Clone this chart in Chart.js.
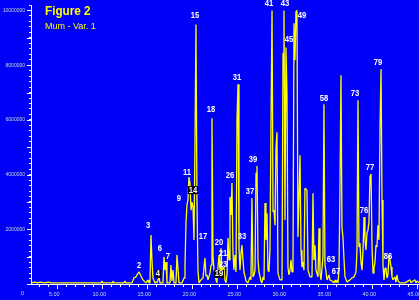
<!DOCTYPE html>
<html>
  <head>
    <title>Figure 2 - Mum - Var. 1</title>
    <script src="https://cdn.jsdelivr.net/npm/chart.js@4.4.0/dist/chart.umd.min.js"></script>
    <style>
      body { margin: 0; background: #0000f6; }
      canvas { display: block; }
    </style>
  </head>
  <body>
    <canvas id="tic" width="419" height="300"></canvas>
    <script>
// retention time (min)
var rtMinutes = [
  2.08, 2.52, 2.86, 3.08, 3.63, 3.97, 4.41,
  9.86, 9.97, 10.08, 11.08, 11.19, 11.30, 12.41, 12.52, 12.63,
  13.30, 13.52, 13.74, 13.86, 14.08, 14.30, 14.52, 14.86, 15.08, 15.19,
  15.30, 15.41, 15.52, 15.63, 15.86, 15.97, 16.08, 16.19, 16.30, 16.41,
  16.74, 16.86, 16.97, 17.08, 17.19, 17.52, 17.63, 17.74, 17.86, 17.97,
  18.19, 18.30, 18.41, 18.52, 18.86, 19.08, 19.19,
  19.30, 19.41, 19.52, 19.63, 19.74, 19.86, 19.97, 20.08, 20.19, 20.30, 20.41, 20.52, 20.63, 20.74,
  20.97, 21.19, 21.41, 21.52, 21.63, 21.74, 21.97, 22.08, 22.19, 22.30, 22.41, 22.52, 22.63, 22.74,
  22.86, 22.97, 23.08, 23.19, 23.30, 23.41, 23.52, 23.63, 23.74,
  23.86, 23.97, 24.08, 24.19, 24.30, 24.41, 24.52, 24.63, 24.74, 24.86,
  24.97, 25.08, 25.19, 25.30, 25.41, 25.52, 25.63, 25.74, 25.97, 26.19,
  26.41, 26.52, 26.63, 26.74, 26.86, 26.97, 27.08, 27.19, 27.30, 27.41, 27.63, 27.74,
  27.86, 27.97, 28.08, 28.19, 28.30, 28.41, 28.52, 28.63, 28.74, 28.86,
  28.97, 29.08, 29.19, 29.30, 29.41, 29.52, 29.74, 29.97,
  30.08, 30.19, 30.30, 30.41, 30.52, 30.63, 30.74, 30.86, 30.97, 31.08, 31.19,
  31.30, 31.41, 31.52, 31.63, 31.74, 31.86, 31.97, 32.08, 32.19, 32.30, 32.41,
  32.52, 32.63, 32.74, 32.86, 33.08, 33.30, 33.41, 33.52, 33.63, 33.74,
  33.97, 34.08, 34.19, 34.30, 34.52, 34.63, 34.74, 34.86, 34.97,
  35.19, 35.30, 35.52, 35.74, 35.86, 35.97, 36.08, 36.19,
  36.30, 36.41, 36.52, 36.63, 36.74, 36.86, 36.97, 37.19,
  37.52, 37.74, 37.97, 38.19, 38.30, 38.41, 38.52, 38.63, 38.74, 38.86,
  38.97, 39.08, 39.19, 39.30, 39.41, 39.52, 39.63, 39.74, 39.86, 39.97, 40.08,
  40.19, 40.30, 40.41, 40.52, 40.63, 40.74, 40.86, 40.97, 41.08, 41.19, 41.30,
  41.41, 41.52, 41.63, 41.74, 41.86, 41.97, 42.08, 42.19, 42.30,
  42.52, 42.63, 42.74, 42.86, 43.08, 43.63, 44.19, 44.30, 44.52, 44.74, 44.86, 44.97, 45.19
];
// abundance at each of those times
var abundance = [
  40000, 70000, 40000, 70000, 40000, 70000, 40000,
  40000, 110000, 40000, 40000, 110000, 40000, 40000, 110000, 40000,
  40000, 220000, 260000, 330000, 440000, 290000, 150000, 40000, 150000, 40000,
  40000, 1790000, 880000, 220000, 40000, 70000, 40000, 40000, 260000, 40000,
  40000, 990000, 510000, 800000, 40000, 40000, 690000, 110000, 510000, 40000,
  40000, 1060000, 580000, 40000, 40000, 220000, 690000,
  2230000, 2880000, 3070000, 3910000, 3690000, 2700000, 2990000, 2810000, 1610000, 5070000, 9490000, 3070000, 510000, 40000,
  150000, 220000, 950000, 290000, 330000, 150000, 400000, 690000, 6060000, 1060000, 510000, 400000, 150000, 40000,
  620000, 1060000, 510000, 1310000, 440000, 580000, 620000, 150000, 40000,
  330000, 1680000, 880000, 3180000, 2520000, 3690000, 1130000, 510000, 1060000, 440000,
  6020000, 7300000, 1310000, 510000, 1130000, 1420000, 880000, 440000, 110000, 40000,
  260000, 150000, 3140000, 260000, 330000, 510000, 4050000, 4310000, 880000, 440000, 110000, 40000,
  260000, 150000, 2960000, 1610000, 2590000, 510000, 440000, 1240000, 5690000, 10000000,
  2630000, 2700000, 2150000, 4960000, 5550000, 400000, 150000, 150000,
  8430000, 10000000, 2340000, 8650000, 6970000, 620000, 330000, 510000, 880000, 440000, 690000,
  9530000, 8180000, 9960000, 10000000, 1720000, 3180000, 4710000, 1240000, 620000, 800000, 510000,
  3500000, 3470000, 3430000, 510000, 260000, 260000, 3320000, 880000, 1420000, 510000,
  260000, 2040000, 400000, 150000, 990000, 6570000, 690000, 440000, 150000,
  330000, 150000, 110000, 40000, 150000, 40000, 150000, 40000,
  510000, 3430000, 7630000, 2080000, 1720000, 880000, 260000, 70000,
  150000, 220000, 260000, 440000, 1240000, 6720000, 1350000, 1500000, 800000, 510000,
  1240000, 2450000, 1610000, 1240000, 1860000, 1970000, 2260000, 3910000, 4020000, 1350000, 400000,
  580000, 800000, 1420000, 1350000, 2150000, 1610000, 5690000, 7850000, 3070000, 690000, 150000,
  580000, 580000, 220000, 330000, 1060000, 880000, 620000, 260000, 150000,
  260000, 70000, 330000, 110000, 40000, 40000, 150000, 40000, 110000, 150000, 40000, 110000, 40000
];

// peak numbers and where they sit (time, abundance)
var peakLabels = ['2', '3', '4', '6', '7', '9', '11', '14', '15', '17', '18', '20', '21', '19', '23', '26',
  '31', '33', '37', '39', '41', '43', '45', '49', '58', '63', '67', '73', '76', '77', '79', '86'];
var peakLabelRt = [14.08, 15.08, 16.19, 16.41, 17.30, 18.52, 19.41, 20.08, 20.30, 21.19, 22.08, 22.97, 23.41, 22.97, 23.41, 24.19,
  24.97, 25.52, 26.41, 26.74, 28.52, 30.30, 30.74, 32.19, 34.63, 35.41, 35.97, 38.08, 39.08, 39.74, 40.63, 41.74];
var peakLabelAbund = [660000, 2120000, 370000, 1280000, 990000, 3140000, 4090000, 3430000, 9820000, 1720000, 6390000, 1530000, 1130000, 370000, 730000, 3980000,
  7560000, 1720000, 3390000, 4560000, 10260000, 10260000, 8940000, 9820000, 6790000, 880000, 470000, 6970000, 2700000, 4270000, 8100000, 990000];
var boxedLabels = ['4', '14', '19'];

var xMin = 2.08, xMax = 45.19;
var yMax = 10200000;

var blue = '#0000f6';
var trace = '#ffff00';
var axisColour = '#ffffff';
var tickText = '#c4dccc';

var points = [];
for (var i = 0; i < Math.min(rtMinutes.length, abundance.length); i++) {
  points.push({ x: rtMinutes[i], y: abundance[i] });
}

var bgFill = {
  id: 'bgFill',
  beforeDraw: function (chart) {
    var ctx = chart.ctx;
    ctx.save();
    ctx.fillStyle = blue;
    ctx.fillRect(0, 0, chart.width, chart.height);
    ctx.restore();
  }
};

var decorations = {
  id: 'decorations',
  afterDraw: function (chart) {
    var ctx = chart.ctx;
    var xs = chart.scales.x, ys = chart.scales.y;
    ctx.save();

    // longer ticks every 1e6 and every 5 min
    ctx.strokeStyle = axisColour;
    ctx.lineWidth = 1;
    ctx.beginPath();
    ys.ticks.forEach(function (t) {
      if (t.value % 1000000 === 0) {
        var py = Math.round(ys.getPixelForValue(t.value)) + 0.5;
        ctx.moveTo(ys.right - 4, py);
        ctx.lineTo(ys.right, py);
      }
    });
    xs.ticks.forEach(function (t) {
      if (t.value % 5 === 0) {
        var px = Math.round(xs.getPixelForValue(t.value)) + 0.5;
        ctx.moveTo(px, xs.top);
        ctx.lineTo(px, xs.top + 5);
      }
    });
    ctx.stroke();

    // the y zero sits down on the time label row
    ctx.fillStyle = tickText;
    ctx.font = '5.5px "Liberation Sans"';
    ctx.textAlign = 'right';
    ctx.textBaseline = 'middle';
    ctx.fillText('0', ys.right - 7, ys.getPixelForValue(0) + 9);

    // peak numbers
    ctx.font = 'bold 9px "Liberation Sans"';
    ctx.textAlign = 'center';
    for (var k = 0; k < peakLabels.length; k++) {
      var lx = xs.getPixelForValue(peakLabelRt[k]);
      var ly = ys.getPixelForValue(peakLabelAbund[k]);
      ctx.save();
      ctx.translate(lx, ly);
      ctx.scale(0.85, 1);
      if (boxedLabels.indexOf(peakLabels[k]) >= 0) {
        var w = ctx.measureText(peakLabels[k]).width;
        ctx.fillStyle = '#000000';
        ctx.fillRect(-w / 2 - 1, -4, w + 2, 8);
      }
      ctx.fillStyle = '#ffffff';
      ctx.fillText(peakLabels[k], 0, 0);
      ctx.restore();
    }

    // title block
    ctx.fillStyle = trace;
    ctx.textAlign = 'left';
    ctx.textBaseline = 'alphabetic';
    ctx.save();
    ctx.translate(chart.chartArea.left + 14, 15);
    ctx.scale(0.9, 1);
    ctx.font = 'bold 13px "Liberation Sans"';
    ctx.fillText('Figure 2', 0, 0);
    ctx.restore();
    ctx.font = '9px "Liberation Sans"';
    ctx.fillText('Mum - Var. 1', chart.chartArea.left + 14, 29);
    ctx.restore();
  }
};

var chart = new Chart(document.getElementById('tic'), {
  type: 'line',
  data: {
    datasets: [{
      data: points,
      borderColor: trace,
      borderWidth: 1.3,
      borderJoinStyle: 'bevel',
      pointRadius: 0,
      tension: 0,
      fill: false
    }]
  },
  options: {
    responsive: false,
    animation: false,
    devicePixelRatio: 1,
    layout: { padding: { top: 5, right: 0, bottom: 0, left: 0 } },
    plugins: { legend: { display: false }, tooltip: { enabled: false } },
    scales: {
      x: {
        type: 'linear',
        min: xMin,
        max: xMax,
        border: { color: axisColour, width: 1 },
        grid: { display: true, drawOnChartArea: false, tickLength: 3, color: axisColour, tickColor: axisColour },
        ticks: {
          stepSize: 1,
          includeBounds: false,
          autoSkip: false,
          maxRotation: 0,
          maxTicksLimit: 1000,
          padding: 4,
          labelOffset: -3,
          color: tickText,
          font: { family: 'Liberation Sans', size: 5.5 },
          callback: function (v) { return v % 5 === 0 ? v.toFixed(2) : ''; }
        },
        afterFit: function (s) { s.height = 16; s.paddingLeft = 0; s.paddingRight = 0; }
      },
      y: {
        min: 0,
        max: yMax,
        border: { color: axisColour, width: 1 },
        grid: { display: true, drawOnChartArea: false, tickLength: 2, color: axisColour, tickColor: axisColour },
        ticks: {
          stepSize: 200000,
          includeBounds: false,
          autoSkip: false,
          maxTicksLimit: 1000,
          padding: 4,
          color: tickText,
          font: { family: 'Liberation Sans', size: 5 },
          callback: function (v) { return (v % 2000000 === 0 && v > 0) ? String(v) : ''; }
        },
        afterFit: function (s) { s.width = 31; s.paddingTop = 0; s.paddingBottom = 0; }
      }
    }
  },
  plugins: [bgFill, decorations]
});
    </script>
  </body>
</html>
